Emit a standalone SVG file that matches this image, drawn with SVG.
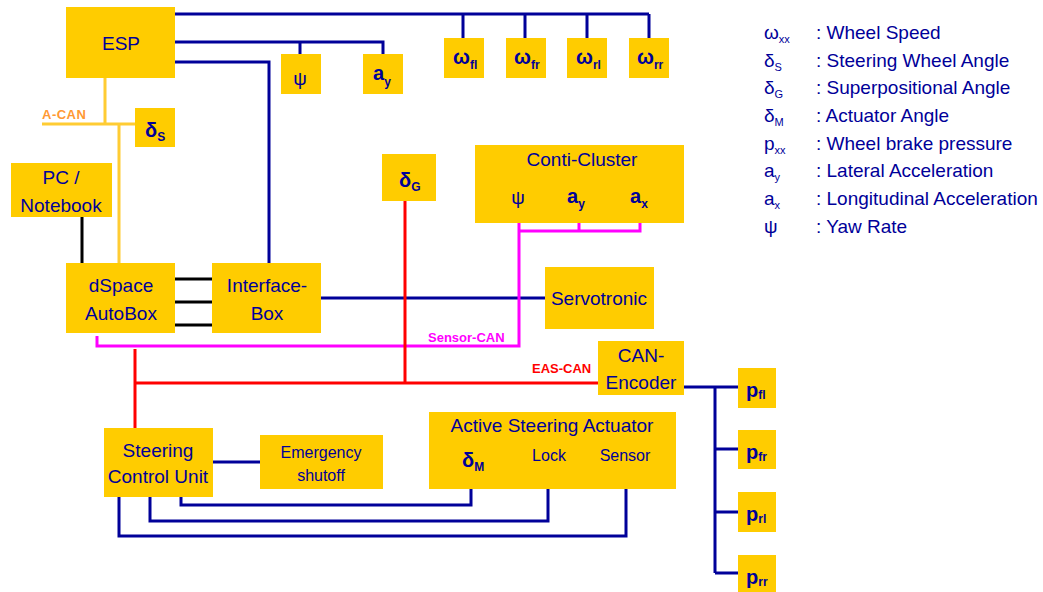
<svg xmlns="http://www.w3.org/2000/svg" width="1043" height="592" viewBox="0 0 1043 592">
<style>
  .box { fill: #FFCC00; }
  .t { font-family: "Liberation Sans", Arial, sans-serif; font-size: 19px; fill: #000099; text-anchor: middle; }
  .ts { font-family: "Liberation Sans", Arial, sans-serif; font-size: 16px; fill: #000099; text-anchor: middle; }
  .sym { font-family: "Liberation Sans", Arial, sans-serif; font-size: 20px; font-weight: bold; fill: #000099; }
  .sub { font-size: 12px; }
  .leg { font-family: "Liberation Sans", Arial, sans-serif; font-size: 19px; fill: #000099; }
  .lsub { font-size: 11px; }
  .bus { font-family: "Liberation Sans", Arial, sans-serif; font-size: 13px; font-weight: bold; }
  .navy { stroke: #000099; stroke-width: 3; fill: none; }
  .red { stroke: #FF0000; stroke-width: 3; fill: none; }
  .mag { stroke: #FF00FF; stroke-width: 3; fill: none; }
  .yel { stroke: #FFCC33; stroke-width: 3; fill: none; }
  .blk { stroke: #000000; stroke-width: 3; fill: none; }
</style>
<rect width="1043" height="592" fill="#FFFFFF"/>

<g id="connectors">
  <path class="navy" d="M175,14 H649 M463,14 V38 M525,14 V38 M587,14 V38 M649,14 V38"/>
  <path class="navy" d="M175,42 H383 V54 M300,42 V54"/>
  <path class="navy" d="M175,62 H269 V263"/>
  <path class="navy" d="M321,298 H545"/>
  <path class="yel" d="M105,78 V124 M42,124 H135 M119,124 V263"/>
  <path class="blk" d="M82,217 V263 M175,279 H212 M175,302 H212 M175,325 H212"/>
  <path class="mag" d="M97,336 V346 H519 V215 M519,231 H640 V215 M579,231 V215"/>
  <path class="red" d="M135,383 H598 M135,349 V428 M405,201 V383"/>
  <path class="navy" d="M684,387 H738 M715,387 V573 M715,449 H738 M715,512 H738 M715,573 H738"/>
  <path class="navy" d="M213,462 H260"/>
  <path class="navy" d="M181,497 V505 H471 V475"/>
  <path class="navy" d="M150,497 V521 H548 V475"/>
  <path class="navy" d="M119,497 V536 H626 V475"/>
  <text class="bus" x="42" y="119" fill="#FF9933" letter-spacing="0.5">A-CAN</text>
  <text class="bus" x="428" y="342" fill="#FF00FF">Sensor-CAN</text>
  <text class="bus" x="532" y="373" fill="#FF0000">EAS-CAN</text>
</g>

<g id="esp"><rect class="box" x="66" y="7" width="109" height="71"/><text class="t" x="121" y="50">ESP</text></g>
<g id="psi"><rect class="box" x="281" y="54" width="40" height="40"/><text class="t" x="300" y="85">ψ</text></g>
<g id="ay"><rect class="box" x="363" y="54" width="40" height="40"/><text class="sym" x="373" y="80">a<tspan class="sub" dy="6">y</tspan></text></g>
<g id="wfl"><rect class="box" x="444" y="38" width="40" height="40"/><text class="sym" x="453" y="64">ω<tspan class="sub" dy="5">fl</tspan></text></g>
<g id="wfr"><rect class="box" x="506" y="38" width="40" height="40"/><text class="sym" x="514" y="64">ω<tspan class="sub" dy="5">fr</tspan></text></g>
<g id="wrl"><rect class="box" x="567" y="38" width="40" height="40"/><text class="sym" x="576" y="64">ω<tspan class="sub" dy="5">rl</tspan></text></g>
<g id="wrr"><rect class="box" x="629" y="38" width="40" height="40"/><text class="sym" x="637" y="64">ω<tspan class="sub" dy="5">rr</tspan></text></g>
<g id="deltaS"><rect class="box" x="135" y="108" width="40" height="39"/><text class="sym" x="145" y="137">δ<tspan class="sub" dy="4">S</tspan></text></g>
<g id="deltaG"><rect class="box" x="382" y="154" width="54" height="47"/><text class="sym" x="399" y="187">δ<tspan class="sub" dy="4">G</tspan></text></g>
<g id="pc"><rect class="box" x="11" y="163" width="101" height="54"/><text class="t" x="61" y="184">PC /</text><text class="t" x="61" y="212">Notebook</text></g>
<g id="conti"><rect class="box" x="475" y="145" width="209" height="78"/>
  <text class="t" x="582" y="166">Conti-Cluster</text>
  <text class="t" x="518" y="204">ψ</text>
  <text class="sym" x="567" y="203">a<tspan class="sub" dy="5">y</tspan></text>
  <text class="sym" x="630" y="203">a<tspan class="sub" dy="5">x</tspan></text>
</g>
<g id="dspace"><rect class="box" x="66" y="263" width="109" height="70"/><text class="t" x="121" y="292">dSpace</text><text class="t" x="121" y="320">AutoBox</text></g>
<g id="interface"><rect class="box" x="212" y="263" width="109" height="70"/><text class="t" x="267" y="292">Interface-</text><text class="t" x="267" y="320">Box</text></g>
<g id="servotronic"><rect class="box" x="545" y="267" width="109" height="62"/><text class="t" x="599" y="305">Servotronic</text></g>
<g id="encoder"><rect class="box" x="598" y="341" width="86" height="54"/><text class="t" x="641" y="362">CAN-</text><text class="t" x="641" y="389">Encoder</text></g>
<g id="scu"><rect class="box" x="104" y="428" width="109" height="69"/><text class="t" x="158" y="457">Steering</text><text class="t" x="158" y="483">Control Unit</text></g>
<g id="emergency"><rect class="box" x="260" y="435" width="123" height="54"/><text class="ts" x="321" y="458">Emergency</text><text class="ts" x="321" y="481">shutoff</text></g>
<g id="actuator"><rect class="box" x="429" y="412" width="247" height="77"/>
  <text class="t" x="552" y="432">Active Steering Actuator</text>
  <text class="sym" x="462" y="467">δ<tspan class="sub" dy="4">M</tspan></text>
  <text class="ts" x="549" y="461">Lock</text>
  <text class="ts" x="625" y="461">Sensor</text>
</g>
<g id="pfl"><rect class="box" x="738" y="368" width="38" height="40"/><text class="sym" x="746" y="397">p<tspan class="sub" dy="2">fl</tspan></text></g>
<g id="pfr"><rect class="box" x="738" y="430" width="38" height="39"/><text class="sym" x="746" y="459">p<tspan class="sub" dy="2">fr</tspan></text></g>
<g id="prl"><rect class="box" x="738" y="492" width="38" height="40"/><text class="sym" x="746" y="521">p<tspan class="sub" dy="2">rl</tspan></text></g>
<g id="prr"><rect class="box" x="738" y="555" width="38" height="37"/><text class="sym" x="746" y="584">p<tspan class="sub" dy="2">rr</tspan></text></g>

<g id="legend">
  <text class="leg" x="764" y="39">ω<tspan class="lsub" dy="4">xx</tspan></text><text class="leg" x="816" y="39">: Wheel Speed</text>
  <text class="leg" x="764" y="67">δ<tspan class="lsub" dy="4">S</tspan></text><text class="leg" x="816" y="67">: Steering Wheel Angle</text>
  <text class="leg" x="764" y="94">δ<tspan class="lsub" dy="4">G</tspan></text><text class="leg" x="816" y="94">: Superpositional Angle</text>
  <text class="leg" x="764" y="122">δ<tspan class="lsub" dy="4">M</tspan></text><text class="leg" x="816" y="122">: Actuator Angle</text>
  <text class="leg" x="764" y="150">p<tspan class="lsub" dy="4">xx</tspan></text><text class="leg" x="816" y="150">: Wheel brake pressure</text>
  <text class="leg" x="764" y="177">a<tspan class="lsub" dy="4">y</tspan></text><text class="leg" x="816" y="177">: Lateral Acceleration</text>
  <text class="leg" x="764" y="205">a<tspan class="lsub" dy="4">x</tspan></text><text class="leg" x="816" y="205">: Longitudinal Acceleration</text>
  <text class="leg" x="764" y="233">ψ</text><text class="leg" x="816" y="233">: Yaw Rate</text>
</g>
</svg>
